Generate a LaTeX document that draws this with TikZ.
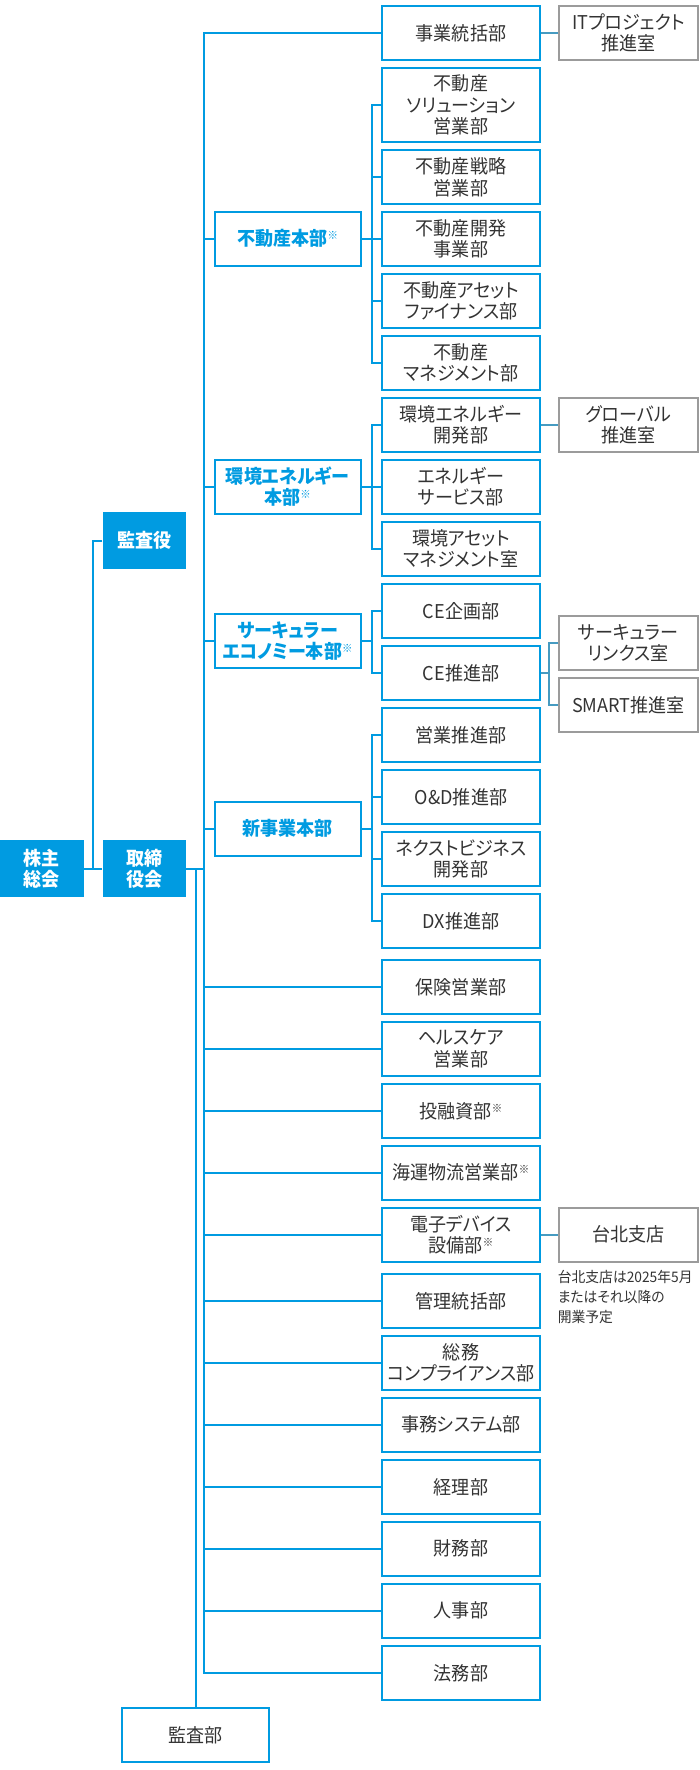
\documentclass[tikz,border=0pt]{standalone}
\usepackage{fontspec}
\setmainfont[RawFeature=+palt]{Noto Sans CJK JP}
\newfontfamily\jpn[RawFeature=+palt, FakeStretch=0.95]{Noto Sans CJK JP}
\definecolor{cblue}{RGB}{0,155,225}
\definecolor{cgray}{RGB}{155,155,155}
\definecolor{ctext}{RGB}{51,51,51}
\colorlet{cmix}{cblue!55!cgray}
\newcommand{\kome}{\raisebox{6pt}{\fontsize{11}{11}\selectfont ※}}
\tikzset{
  dept/.style={draw=cblue, line width=2pt, minimum width=158pt, minimum height=54pt,
    inner sep=0pt, align=center, text=ctext, font=\jpn\fontsize{19}{21.5}\selectfont},
  hq/.style={dept, minimum width=146.2pt, text=cblue, font=\jpn\fontsize{19}{21.5}\selectfont\bfseries},
  topbox/.style={fill=cblue, minimum width=83.7pt, minimum height=57.3pt, inner sep=0pt,
    align=center, text=white, font=\jpn\fontsize{19}{21.5}\selectfont\bfseries},
  side/.style={draw=cgray, line width=2pt, minimum width=139pt, minimum height=54pt,
    inner sep=0pt, align=center, text=ctext, font=\jpn\fontsize{19}{21.5}\selectfont},
  link/.style={draw=cblue, line width=2pt},
  glink/.style={draw=cmix, line width=2pt}
}
\begin{document}
\begin{tikzpicture}[x=1pt,y=1pt]
\useasboundingbox (0,0) rectangle (700,-1770);
% top-level boxes
\node[topbox] (kabu) at (41.85,-868.7) {株主\\総会};
\node[topbox] (tori) at (144.35,-868.7) {取締\\役会};
\node[topbox] (yaku) at (144.35,-540.8) {監査役};
\node[dept, minimum width=147pt, minimum height=54.3pt] (kansa) at (195.5,-1734.8) {監査部};
% headquarters
\node[hq] (h1) at (287.6,-238.7) {不動産本部\kome};
\node[hq] (h2) at (287.6,-486.8) {環境エネルギー\\本部\kome};
\node[hq] (h3) at (287.6,-641.3) {サーキュラー\\エコノミー本部\kome};
\node[hq] (h4) at (287.6,-828.7) {新事業本部};
% departments
\node[dept] (d1) at (461,-33) {事業統括部};
\node[dept, minimum height=74.6pt] (d2) at (461,-105) {不動産\\ソリューション\\営業部};
\node[dept] (d3) at (461,-177) {不動産戦略\\営業部};
\node[dept] (d4) at (461,-238.7) {不動産開発\\事業部};
\node[dept] (d5) at (461,-300.8) {不動産アセット\\ファイナンス部};
\node[dept] (d6) at (461,-362.7) {不動産\\マネジメント部};
\node[dept] (d7) at (461,-424.7) {環境エネルギー\\開発部};
\node[dept] (d8) at (461,-486.8) {エネルギー\\サービス部};
\node[dept] (d9) at (461,-548.7) {環境アセット\\マネジメント室};
\node[dept] (d10) at (461,-610.8) {CE企画部};
\node[dept] (d11) at (461,-672.8) {CE推進部};
\node[dept] (d12) at (461,-734.8) {営業推進部};
\node[dept] (d13) at (461,-797) {O\&D推進部};
\node[dept] (d14) at (461,-859) {ネクストビジネス\\開発部};
\node[dept] (d15) at (461,-920.8) {DX推進部};
\node[dept] (d16) at (461,-987) {保険営業部};
\node[dept] (d17) at (461,-1048.7) {ヘルスケア\\営業部};
\node[dept] (d18) at (461,-1110.8) {投融資部\kome};
\node[dept] (d19) at (461,-1172.7) {海運物流営業部\kome};
\node[dept] (d20) at (461,-1234.5) {電子デバイス\\設備部\kome};
\node[dept] (d21) at (461,-1300.8) {管理統括部};
\node[dept] (d22) at (461,-1363) {総務\\コンプライアンス部};
\node[dept] (d23) at (461,-1424.7) {事務システム部};
\node[dept] (d24) at (461,-1486.8) {経理部};
\node[dept] (d25) at (461,-1548.7) {財務部};
\node[dept] (d26) at (461,-1610.7) {人事部};
\node[dept] (d27) at (461,-1672.8) {法務部};
% side boxes
\node[side] (r1) at (628.5,-33) {ITプロジェクト\\推進室};
\node[side] (r2) at (628.5,-424.7) {グローバル\\推進室};
\node[side] (r3) at (628.5,-642.8) {サーキュラー\\リンクス室};
\node[side] (r4) at (628.5,-705) {SMART推進室};
\node[side] (r5) at (628.5,-1234.5) {台北支店};
\node[anchor=north west, align=left, inner sep=0pt, text=ctext,
  font=\jpn\fontsize{14.5}{20}\selectfont] (note) at (557.7,-1270) {台北支店は2025年5月\\またはそれ以降の\\開業予定};
% connectors, left part
\coordinate (jx) at (92.7,0);
\coordinate (tx) at (203.7,0);
\coordinate (sx) at (372,0);
\coordinate (fx) at (549.3,0);
\draw[link] (kabu.east) -- (tori.west);
\draw[link] (yaku.west) -| (kabu.east -| jx);
\draw[link] (tori.east) -- (tori.east -| tx);
\draw[link] (tori.east -| kansa.north) -- (kansa.north);
% trunk
\draw[link, line join=miter] (d1.west) -- (d1.west -| tx) -- (d27.west -| tx) -- (d27.west);
\foreach \n in {h1,h2,h3,h4,d16,d17,d18,d19,d20,d21,d22,d23,d24,d25,d26}
  \draw[link] (\n.west) -- (\n.west -| tx);
% sub-branches
\draw[link, line join=miter] (d2.west) -- (d2.west -| sx) -- (d6.west -| sx) -- (d6.west);
\foreach \n in {d3,d4,d5} \draw[link] (\n.west) -- (\n.west -| sx);
\draw[link] (h1.east) -- (h1.east -| sx);
\draw[link, line join=miter] (d7.west) -- (d7.west -| sx) -- (d9.west -| sx) -- (d9.west);
\draw[link] (d8.west) -- (d8.west -| sx);
\draw[link] (h2.east) -- (h2.east -| sx);
\draw[link, line join=miter] (d10.west) -- (d10.west -| sx) -- (d11.west -| sx) -- (d11.west);
\draw[link] (h3.east) -- (h3.east -| sx);
\draw[link, line join=miter] (d12.west) -- (d12.west -| sx) -- (d15.west -| sx) -- (d15.west);
\foreach \n in {d13,d14} \draw[link] (\n.west) -- (\n.west -| sx);
\draw[link] (h4.east) -- (h4.east -| sx);
% right-side connectors
\draw[glink] (d1.east) -- (r1.west);
\draw[glink] (d7.east) -- (r2.west);
\draw[glink] (d20.east) -- (r5.west);
\draw[glink] (d11.east) -- (d11.east -| fx);
\draw[glink, line join=miter] (r3.west) -| (r4.west -| fx) -- (r4.west);
\end{tikzpicture}
\end{document}
